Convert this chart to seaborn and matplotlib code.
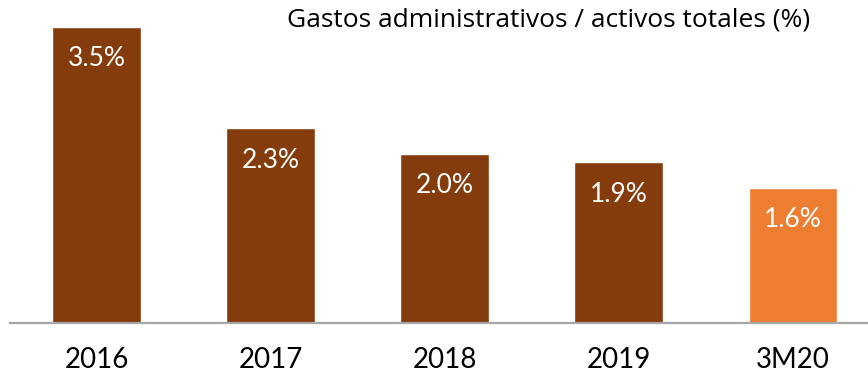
import matplotlib
matplotlib.use("Agg")
import matplotlib.pyplot as plt
import seaborn as sns
import pandas as pd

periods = ["2016", "2017", "2018", "2019", "3M20"]
ratio_pct = [3.5, 2.3, 2.0, 1.9, 1.6]
bar_colors = ["#843C0C", "#843C0C", "#843C0C", "#843C0C", "#ED7D31"]
title = "Gastos administrativos / activos totales (%)"

sns.set_theme(style="white")
plt.rcParams["font.family"] = ["Lato", "DejaVu Sans"]

df = pd.DataFrame({"periodo": periods, "valor": ratio_pct})

fig = plt.figure(figsize=(8.68, 3.76), dpi=100)
ax = fig.add_axes([10 / 868, 53 / 376, 858 / 868, 323 / 376])

sns.barplot(data=df, x="periodo", y="valor", hue="periodo",
            palette=dict(zip(periods, bar_colors)), legend=False,
            width=0.51, saturation=1, ax=ax)

ax.set_xlim(-0.497, 4.431)
ax.set_ylim(0, 3.818)
ax.set_xlabel("")
ax.set_ylabel("")
ax.set_yticks([])
ax.tick_params(axis="x", length=0, pad=17, labelsize=20, labelcolor="black")

for side in ["left", "right", "top"]:
    ax.spines[side].set_visible(False)
ax.spines["bottom"].set_color("#A6A6A6")
ax.spines["bottom"].set_linewidth(1.6)

for i, v in enumerate(ratio_pct):
    ax.annotate(f"{v:.1f}%", xy=(i, v), xytext=(0, -23),
                textcoords="offset points", ha="center", va="center",
                color="white", fontsize=19)

fig.text(0.632, 0.947, title, ha="center", va="center",
         fontsize=19, color="black", family=["Open Sans", "DejaVu Sans"])

fig.savefig("out.png", dpi=100)
